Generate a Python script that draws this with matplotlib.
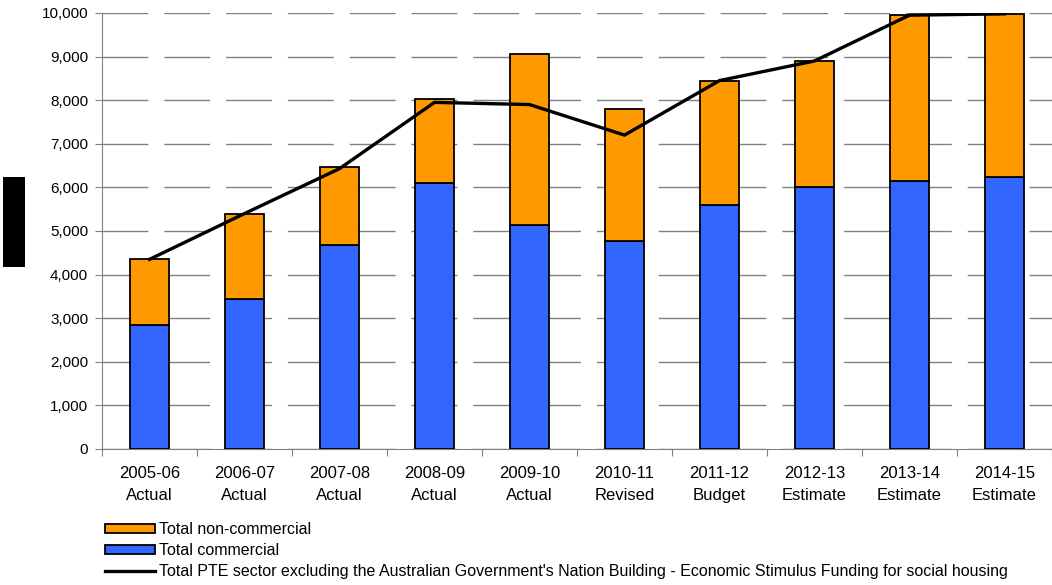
import matplotlib
matplotlib.use("Agg")
import matplotlib.pyplot as plt
import numpy as np
from matplotlib.patches import Patch, Rectangle
from matplotlib.lines import Line2D

years = ["2005-06", "2006-07", "2007-08", "2008-09", "2009-10",
         "2010-11", "2011-12", "2012-13", "2013-14", "2014-15"]
status = ["Actual", "Actual", "Actual", "Actual", "Actual",
          "Revised", "Budget", "Estimate", "Estimate", "Estimate"]
commercial = [2840, 3440, 4680, 6100, 5130, 4770, 5600, 6000, 6150, 6230]
total_bars = [4350, 5400, 6460, 8030, 9050, 7800, 8450, 8900, 9950, 9980]
non_commercial = [t - c for t, c in zip(total_bars, commercial)]
pte_line = [4350, 5400, 6430, 7950, 7900, 7200, 8450, 8900, 9950, 9980]

plt.rcParams['font.family'] = ['Liberation Sans', 'DejaVu Sans']

fig = plt.figure(figsize=(10.52, 5.85), dpi=100)
ax = fig.add_axes([102/1052, (585-449)/585, 950/1052, 436/585])

x = np.arange(len(years))
ax.bar(x, commercial, width=0.42, color="#3366FF", edgecolor="black", linewidth=1.3, zorder=3)
ax.bar(x, non_commercial, bottom=commercial, width=0.42, color="#FF9900", edgecolor="black", linewidth=1.3, zorder=3)
ax.plot(x, pte_line, color="black", linewidth=2.4, zorder=4)

ax.set_xlim(-0.5, len(years) - 0.5)
ax.set_ylim(0, 10000)
ax.set_yticks(np.arange(0, 10001, 1000))
ax.set_yticklabels([f"{v:,}" for v in range(0, 10001, 1000)], fontsize=11)
ax.yaxis.grid(True, color="#808080", linestyle=(0, (33, 11.5)), linewidth=1.0, zorder=0)

ax.set_xticks(np.arange(-0.5, len(years), 1.0))
ax.set_xticklabels([])
ax.set_xticks(x, minor=True)
ax.set_xticklabels([f"{y}\n{s}" for y, s in zip(years, status)], minor=True, fontsize=12, linespacing=1.6)
ax.tick_params(axis='x', which='minor', length=0, pad=12)
ax.tick_params(axis='x', which='major', length=5, color="#808080")
ax.tick_params(axis='y', length=5, color="#808080", pad=5)

for s in ["top", "right"]:
    ax.spines[s].set_visible(False)
ax.spines["left"].set_color("#808080")
ax.spines["bottom"].set_color("#808080")

handles = [Patch(facecolor="#FF9900", edgecolor="black", linewidth=1.3),
           Patch(facecolor="#3366FF", edgecolor="black", linewidth=1.3),
           Line2D([0], [0], color="black", linewidth=2.4)]
labels = ["Total non-commercial", "Total commercial",
          "Total PTE sector excluding the Australian Government's Nation Building - Economic Stimulus Funding for social housing"]
fig.legend(handles, labels, loc="upper left", bbox_to_anchor=(105/1052, 1 - 522/585),
           frameon=False, fontsize=11.5, handlelength=3.1, handleheight=0.55,
           labelspacing=0.38, handletextpad=0.3, borderpad=0, borderaxespad=0)

fig.patches.append(Rectangle((3/1052, 1 - 267/585), 22/1052, 90/585,
                             transform=fig.transFigure, facecolor="black", edgecolor="none"))

fig.savefig("out.png", dpi=100)
